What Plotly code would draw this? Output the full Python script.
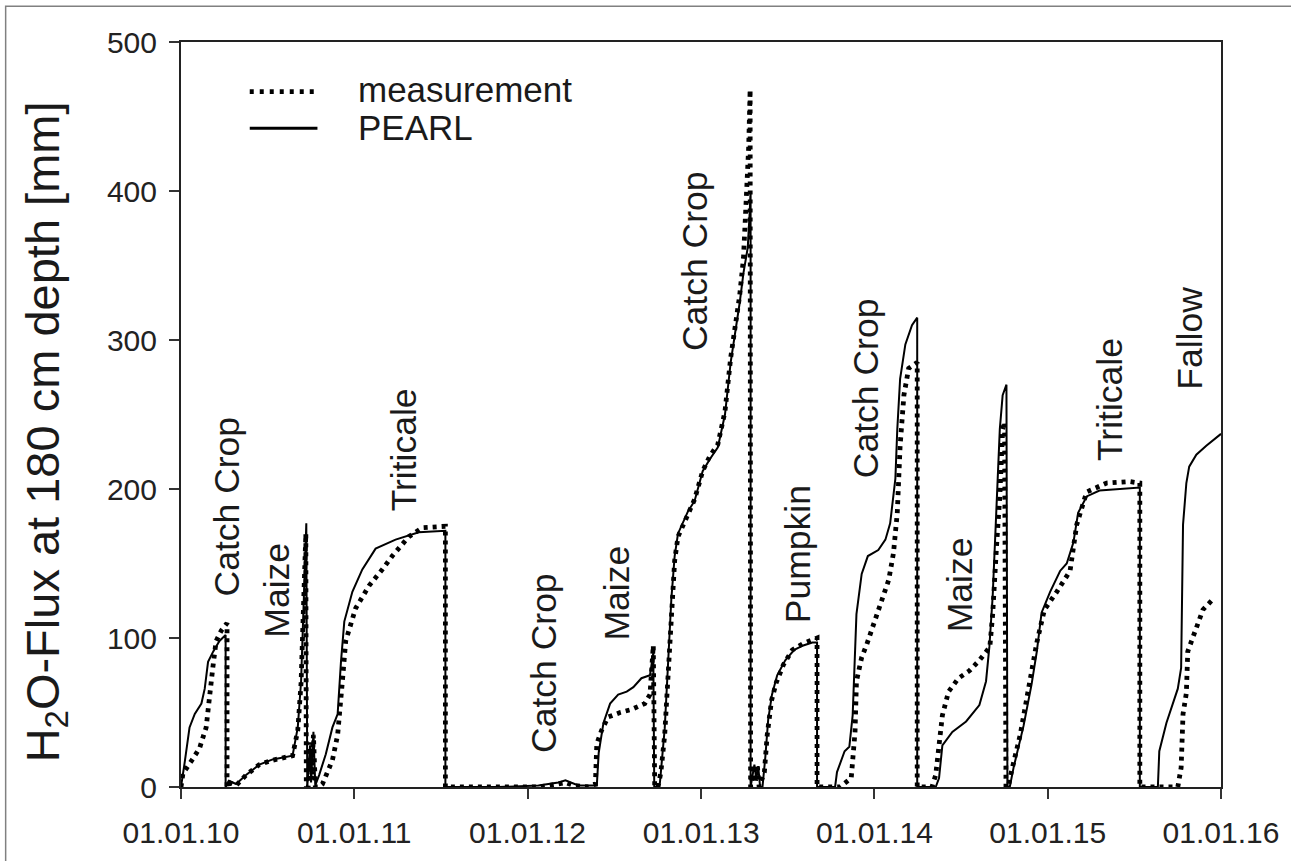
import plotly.graph_objects as go

FONT = "Liberation Sans, Arial, Helvetica, sans-serif"

# ---------------- data ----------------
pearl_dates = [
    "2010-01-01", "2010-01-05", "2010-01-09", "2010-01-19", "2010-01-30", "2010-02-13",
    "2010-02-20", "2010-02-27", "2010-03-10", "2010-03-23", "2010-04-05", "2010-04-05",
    "2010-04-13", "2010-04-27", "2010-05-18", "2010-06-15", "2010-07-13", "2010-08-24",
    "2010-09-04", "2010-09-11", "2010-09-18", "2010-09-22", "2010-09-24", "2010-09-30",
    "2010-10-02", "2010-10-07", "2010-10-11", "2010-10-12", "2010-10-19", "2010-11-02",
    "2010-11-16", "2010-11-27", "2010-12-04", "2010-12-11", "2010-12-28", "2011-01-18",
    "2011-02-15", "2011-03-29", "2011-05-17", "2011-07-12", "2011-07-12", "2011-11-01",
    "2012-01-24", "2012-03-06", "2012-03-21", "2012-04-03", "2012-04-17", "2012-05-26",
    "2012-05-30", "2012-06-09", "2012-06-23", "2012-07-10", "2012-07-28", "2012-08-11",
    "2012-08-28", "2012-09-15", "2012-09-22", "2012-09-24", "2012-10-02", "2012-10-06",
    "2012-10-16", "2012-10-23", "2012-10-30", "2012-11-06", "2012-11-13", "2012-12-04",
    "2012-12-18", "2013-01-04", "2013-01-19", "2013-02-05", "2013-02-20", "2013-03-04",
    "2013-03-15", "2013-03-23", "2013-03-31", "2013-04-09", "2013-04-13", "2013-04-15",
    "2013-04-15", "2013-04-23", "2013-04-27", "2013-05-01", "2013-05-05", "2013-05-10",
    "2013-05-16", "2013-05-22", "2013-05-30", "2013-06-10", "2013-06-27", "2013-07-16",
    "2013-08-04", "2013-08-23", "2013-09-02", "2013-09-02", "2013-10-10", "2013-10-14",
    "2013-10-30", "2013-11-09", "2013-11-16", "2013-11-24", "2013-12-05", "2013-12-18",
    "2014-01-09", "2014-01-24", "2014-02-03", "2014-02-14", "2014-02-18", "2014-02-24",
    "2014-03-07", "2014-03-21", "2014-04-01", "2014-04-01", "2014-05-10", "2014-05-17",
    "2014-05-24", "2014-06-14", "2014-07-13", "2014-08-10", "2014-08-24", "2014-08-31",
    "2014-09-07", "2014-09-15", "2014-09-22", "2014-09-28", "2014-10-06", "2014-10-08",
    "2014-10-13", "2014-10-21", "2014-11-11", "2014-11-28", "2014-12-09", "2014-12-19",
    "2015-01-06", "2015-01-27", "2015-02-10", "2015-02-24", "2015-03-06", "2015-03-24",
    "2015-04-20", "2015-07-14", "2015-07-14", "2015-08-21", "2015-08-24", "2015-09-08",
    "2015-09-22", "2015-10-02", "2015-10-09", "2015-10-13", "2015-10-20", "2015-10-26",
    "2015-11-10", "2015-12-01", "2016-01-01",
]
pearl_values = [
    0, 10, 17, 40, 49, 56,
    66, 84, 91, 98, 102, 0,
    4, 2, 8, 15, 18.5, 21,
    40, 71, 140, 177, 0, 28,
    3, 37, 0, 2, 8, 22,
    40, 49, 84, 111, 131, 146,
    160, 166, 171, 172, 0, 0,
    1, 3, 4.5, 3, 1, 1,
    23, 43, 56, 62, 64, 67,
    73, 75, 90, 0, 0, 3,
    39, 82, 126, 155, 170, 185,
    192, 212, 220, 228, 250, 285,
    308, 325, 345, 362, 385, 400,
    0, 15, 5, 14, 0, 0,
    20, 45, 62, 75, 85, 92,
    95, 97, 97, 0, 0, 10,
    24, 27, 48, 116, 143, 155,
    159, 166, 177, 207, 240, 274,
    297, 310, 315, 0, 0, 6,
    28, 37, 44, 55, 71, 94,
    128, 184, 240, 263, 270, 0,
    0, 13, 41, 69, 91, 117,
    131, 145, 150, 164, 184, 195,
    199, 201, 0, 0, 24, 43,
    57, 66, 80, 176, 204, 215,
    223, 229, 237,
]

meas_dates = [
    "2010-01-01", "2010-01-05", "2010-01-23", "2010-02-09", "2010-02-23", "2010-03-02",
    "2010-03-09", "2010-03-16", "2010-03-27", "2010-04-08", "2010-04-08", "2010-04-13",
    "2010-04-27", "2010-05-18", "2010-06-15", "2010-07-13", "2010-08-24", "2010-09-04",
    "2010-09-11", "2010-09-18", "2010-09-21", "2010-09-22", "2010-09-26", "2010-09-30",
    "2010-10-03", "2010-10-07", "2010-10-11", "2010-10-19", "2010-10-26", "2010-11-16",
    "2010-11-27", "2010-12-07", "2010-12-14", "2011-01-04", "2011-02-01", "2011-03-01",
    "2011-03-22", "2011-04-26", "2011-05-24", "2011-07-12", "2011-07-12", "2011-11-01",
    "2012-01-24", "2012-03-06", "2012-03-21", "2012-04-07", "2012-05-08", "2012-05-23",
    "2012-05-26", "2012-06-05", "2012-06-19", "2012-07-14", "2012-08-07", "2012-09-04",
    "2012-09-15", "2012-09-22", "2012-09-25", "2012-10-02", "2012-10-08", "2012-10-16",
    "2012-10-23", "2012-10-30", "2012-11-06", "2012-11-13", "2012-12-04", "2012-12-18",
    "2013-01-04", "2013-01-19", "2013-02-05", "2013-02-20", "2013-03-04", "2013-03-15",
    "2013-03-23", "2013-03-31", "2013-04-07", "2013-04-11", "2013-04-14", "2013-04-15",
    "2013-04-21", "2013-04-25", "2013-04-29", "2013-05-03", "2013-05-14", "2013-05-20",
    "2013-05-29", "2013-06-08", "2013-06-23", "2013-07-12", "2013-08-02", "2013-08-21",
    "2013-09-02", "2013-09-02", "2013-10-20", "2013-11-13", "2013-11-21", "2013-11-24",
    "2013-12-05", "2013-12-16", "2014-01-03", "2014-01-17", "2014-01-31", "2014-02-10",
    "2014-02-18", "2014-02-24", "2014-03-04", "2014-03-14", "2014-03-25", "2014-04-01",
    "2014-04-01", "2014-05-02", "2014-05-10", "2014-05-17", "2014-05-24", "2014-06-06",
    "2014-06-27", "2014-07-20", "2014-08-10", "2014-09-01", "2014-09-07", "2014-09-15",
    "2014-09-22", "2014-09-28", "2014-10-02", "2014-10-05", "2014-10-10", "2014-10-14",
    "2014-11-04", "2014-12-09", "2014-12-25", "2015-01-20", "2015-02-17", "2015-03-03",
    "2015-03-24", "2015-05-05", "2015-06-22", "2015-07-14", "2015-07-14", "2015-10-02",
    "2015-10-09", "2015-10-13", "2015-10-20", "2015-10-23", "2015-10-30", "2015-11-10",
    "2015-11-24", "2015-12-15",
]
meas_values = [
    0, 9, 17.5, 26, 40, 62,
    80, 98, 105, 110, 0, 3,
    1, 8, 15, 18, 21, 38,
    70, 140, 170, 0, 0, 30,
    5, 35, 0, 0, 2, 18,
    35, 71, 98, 120, 135, 146,
    155, 168, 174, 175, 0, 0,
    0, 2, 3, 1, 0, 2,
    29, 38, 47, 50, 52, 56,
    62, 95, 0, 0, 10, 35,
    78, 122, 152, 168, 184, 193,
    212, 222, 230, 252, 288, 312,
    330, 355, 395, 430, 468, 0,
    12, 3, 15, 0, 10, 35,
    58, 70, 82, 92, 96, 99,
    100, 0, 0, 6, 37, 71,
    87, 96, 112, 125, 139, 157,
    184, 229, 263, 281, 284, 285,
    0, 0, 8, 26, 48, 64,
    73, 78, 85, 94, 116, 161,
    195, 240, 245, 0, 0, 7,
    35, 97, 119, 131, 145, 176,
    198, 204, 205, 204, 0, 0,
    13, 49, 63, 91, 97, 105,
    119, 126,
]

crop_labels = ["Catch Crop", "Maize", "Triticale", "Catch Crop", "Maize", "Catch Crop",
               "Pumpkin", "Catch Crop", "Maize", "Triticale", "Fallow"]
crop_dates = ["2010-04-07", "2010-07-23", "2011-04-16", "2012-02-06", "2012-07-08", "2012-12-19",
              "2013-07-23", "2013-12-13", "2014-06-30", "2015-05-11", "2015-10-26"]
crop_y = [188, 132, 226, 83, 130, 353, 156, 268, 136, 260, 301]

x_range = ["2010-01-01", "2016-01-01"]
y_range = [0, 500]
y_title = "H<sub>2</sub>O-Flux at 180 cm depth [mm]"

assert len(pearl_dates) == len(pearl_values)
assert len(meas_dates) == len(meas_values)

# ---------------- figure ----------------
DOT = "4px,5px"
DOT_W = 4.8

fig = go.Figure()
fig.add_trace(go.Scatter(
    x=pearl_dates, y=pearl_values, mode="lines", name="PEARL",
    line=dict(color="black", width=2), showlegend=False,
))
fig.add_trace(go.Scatter(
    x=meas_dates, y=meas_values, mode="lines", name="measurement",
    line=dict(color="black", width=DOT_W, dash=DOT), showlegend=False,
))

annotations = []
for lab, d, yv in zip(crop_labels, crop_dates, crop_y):
    annotations.append(dict(
        x=d, y=yv, xref="x", yref="y", text=lab, showarrow=False, textangle=-90,
        font=dict(family=FONT, size=35.5, color="#1a1a1a"), xanchor="center", yanchor="middle",
    ))

# y-axis title
annotations.append(dict(
    x=-0.1303, y=0.4767, xref="paper", yref="paper", text=y_title, showarrow=False,
    textangle=-90, font=dict(family=FONT, size=47, color="#1a1a1a"),
    xanchor="center", yanchor="middle",
))

# legend text
annotations.append(dict(x=0.1686, y=0.9361, xref="paper", yref="paper", text="measurement",
                        showarrow=False, xanchor="left", yanchor="middle",
                        font=dict(family=FONT, size=35, color="#1a1a1a")))
annotations.append(dict(x=0.1686, y=0.8855, xref="paper", yref="paper", text="PEARL",
                        showarrow=False, xanchor="left", yanchor="middle",
                        font=dict(family=FONT, size=35, color="#1a1a1a")))

shapes = [
    # legend samples
    dict(type="line", xref="paper", yref="paper", x0=0.0661, x1=0.1312, y0=0.9334, y1=0.9334,
         line=dict(color="black", width=DOT_W, dash="4px,6px")),
    dict(type="line", xref="paper", yref="paper", x0=0.0661, x1=0.1312, y0=0.8842, y1=0.8842,
         line=dict(color="black", width=3)),
    # outer image border
    dict(type="rect", xref="paper", yref="paper", x0=-0.1686, x1=1.07, y0=-0.11, y1=1.0479,
         line=dict(color="#808080", width=1.5), fillcolor="rgba(0,0,0,0)", layer="below"),
]

axis_common = dict(
    showline=True, linecolor="#222222", linewidth=2, mirror=True,
    ticks="outside", ticklen=10, tickwidth=1.5, tickcolor="#333333",
    showgrid=False, zeroline=False,
    tickfont=dict(family=FONT, size=30, color="#222222"),
)

fig.update_layout(
    width=1291, height=861,
    margin=dict(l=181, r=66, t=42, b=68),
    paper_bgcolor="white", plot_bgcolor="white",
    showlegend=False,
    xaxis=dict(type="date", range=x_range, tickformat="%d.%m.%y", dtick="M12",
               tick0="2010-01-01", ticklabelstandoff=8, **axis_common),
    yaxis=dict(range=y_range, dtick=100, tick0=0, ticklabelstandoff=6, **axis_common),
    annotations=annotations,
    shapes=shapes,
)

fig.write_html("out.html")
